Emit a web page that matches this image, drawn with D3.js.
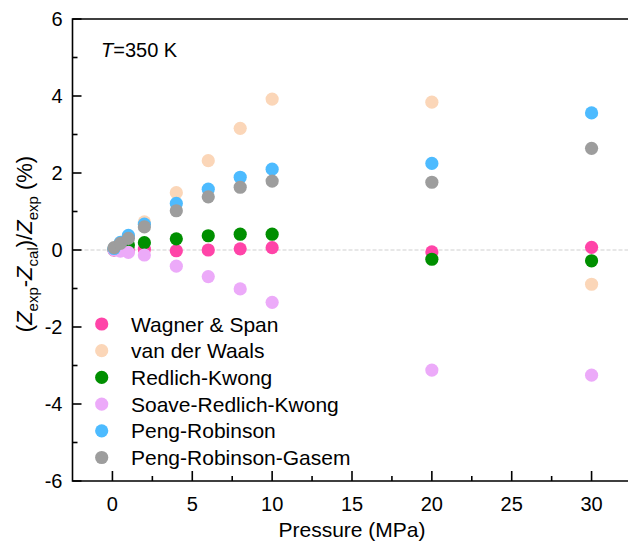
<!DOCTYPE html>
<html lang="en">
<head>
  <meta charset="UTF-8">
  <title>Z deviation vs pressure</title>
  <script src="https://d3js.org/d3.v7.min.js"></script>
  <style>
    body { margin: 0; background: #fff; }
    svg { display: block; font-family: "Liberation Sans", Arial, sans-serif; }
    .frame { fill: none; stroke: #000; stroke-width: 1.6; }
    .zero { stroke: #cfcfcf; stroke-width: 1; stroke-dasharray: 4 2; }
  </style>
</head>
<body>
<svg width="628" height="544"></svg>
<script>
// pressures (MPa)
const pressures = [0.1, 0.5, 1, 2, 4, 6, 8, 10, 20, 30];

// deviations (%) per equation of state
const wagner = [0.0, 0.0, 0.0, 0.02, -0.02, 0.0, 0.03, 0.06, -0.05, 0.07];
const vdw    = [0.02, 0.15, 0.35, 0.73, 1.49, 2.32, 3.16, 3.92, 3.84, -0.89];
const rk     = [0.01, 0.06, 0.13, 0.19, 0.29, 0.37, 0.41, 0.41, -0.24, -0.28];
const srk    = [0.0, -0.03, -0.06, -0.13, -0.42, -0.69, -1.01, -1.36, -3.12, -3.25];
const pr     = [0.04, 0.2, 0.38, 0.67, 1.21, 1.58, 1.89, 2.1, 2.25, 3.56];
const prg    = [0.06, 0.17, 0.3, 0.6, 1.02, 1.38, 1.63, 1.79, 1.76, 2.64];

const seriesNames = ["Wagner & Span", "van der Waals", "Redlich-Kwong",
                     "Soave-Redlich-Kwong", "Peng-Robinson", "Peng-Robinson-Gasem"];
const seriesValues = [wagner, vdw, rk, srk, pr, prg];
const colors = ["#ff44a8", "#fbd6b8", "#008f00", "#ecaaf9", "#4dbbff", "#9d9d9d"];

const xTicks = [0, 5, 10, 15, 20, 25, 30];
const yTicks = [-6, -4, -2, 0, 2, 4, 6];

const svg = d3.select("svg");
const plotL = 72.5, plotR = 631.5, plotT = 19, plotB = 481;

const x = d3.scaleLinear().domain([-2.5, 32.5]).range([plotL, plotR]);
const y = d3.scaleLinear().domain([-6, 6]).range([plotB, plotT]);

// zero line
svg.append("line").attr("class", "zero")
  .attr("x1", plotL).attr("x2", plotR)
  .attr("y1", y(0)).attr("y2", y(0));

// x axis: ticks point inward
const xAxis = svg.append("g").attr("transform", `translate(0,${plotB})`);
xAxis.selectAll(".major").data(xTicks).enter().append("line")
  .attr("x1", d => x(d)).attr("x2", d => x(d))
  .attr("y1", 0).attr("y2", -10)
  .attr("stroke", "#000").attr("stroke-width", 1.6);
xAxis.selectAll(".minor").data(xTicks.map(d => d + 2.5)).enter().append("line")
  .attr("x1", d => x(d)).attr("x2", d => x(d))
  .attr("y1", 0).attr("y2", -5)
  .attr("stroke", "#000").attr("stroke-width", 1.6);
xAxis.selectAll("text").data(xTicks).enter().append("text")
  .attr("x", d => x(d)).attr("y", 30)
  .attr("text-anchor", "middle").attr("font-size", 20)
  .text(d => d);

// y axis
const yAxis = svg.append("g").attr("transform", `translate(${plotL},0)`);
yAxis.selectAll(".major").data(yTicks).enter().append("line")
  .attr("x1", 0).attr("x2", 9)
  .attr("y1", d => y(d)).attr("y2", d => y(d))
  .attr("stroke", "#000").attr("stroke-width", 1.6);
yAxis.selectAll(".minor").data(yTicks.slice(0, -1).map(d => d + 1)).enter().append("line")
  .attr("x1", 0).attr("x2", 5)
  .attr("y1", d => y(d)).attr("y2", d => y(d))
  .attr("stroke", "#000").attr("stroke-width", 1.6);
yAxis.selectAll("text").data(yTicks).enter().append("text")
  .attr("x", -10).attr("y", d => y(d)).attr("dy", "0.36em")
  .attr("text-anchor", "end").attr("font-size", 20)
  .text(d => d);

// frame
svg.append("path").attr("class", "frame")
  .attr("d", `M${plotR},${plotT}H${plotL}V${plotB}H${plotR}`);

// points, drawn in legend order
seriesValues.forEach((vals, i) => {
  svg.append("g").selectAll("circle")
    .data(vals.map((v, j) => [pressures[j], v]))
    .enter().append("circle")
    .attr("cx", d => x(d[0])).attr("cy", d => y(d[1]))
    .attr("r", 6.6)
    .attr("fill", colors[i]);
});

// temperature note
const note = svg.append("text").attr("x", 101).attr("y", 57).attr("font-size", 20);
note.append("tspan").attr("font-style", "italic").text("T");
note.append("tspan").text("=350 K");

// legend
const legend = svg.append("g");
seriesNames.forEach((name, i) => {
  const ly = 324 + i * 26.7;
  legend.append("circle").attr("cx", 101.7).attr("cy", ly).attr("r", 6.6).attr("fill", colors[i]);
  legend.append("text").attr("x", 131).attr("y", ly).attr("dy", "0.36em")
    .attr("font-size", 21).text(name);
});

// axis titles
svg.append("text")
  .attr("x", x(15)).attr("y", 537)
  .attr("text-anchor", "middle").attr("font-size", 21)
  .text("Pressure (MPa)");

const yt = svg.append("text")
  .attr("transform", `translate(32,${(plotT + plotB) / 2 - 6}) rotate(-90)`)
  .attr("text-anchor", "middle").attr("font-size", 22);
const parts = [
  ["(", null], ["Z", "i"], ["exp", "s"], ["-", null], ["Z", "i"], ["cal", "s"],
  [")/", null], ["Z", "i"], ["exp", "s"], [" (%)", null]
];
let shifted = false;
parts.forEach(([t, kind]) => {
  const ts = yt.append("tspan").text(t);
  if (kind === "i") ts.attr("font-style", "italic");
  if (kind === "s") {
    ts.attr("font-size", 15).attr("dy", 6);
    shifted = true;
  } else if (shifted) {
    ts.attr("dy", -6);
    shifted = false;
  }
});
</script>
</body>
</html>
